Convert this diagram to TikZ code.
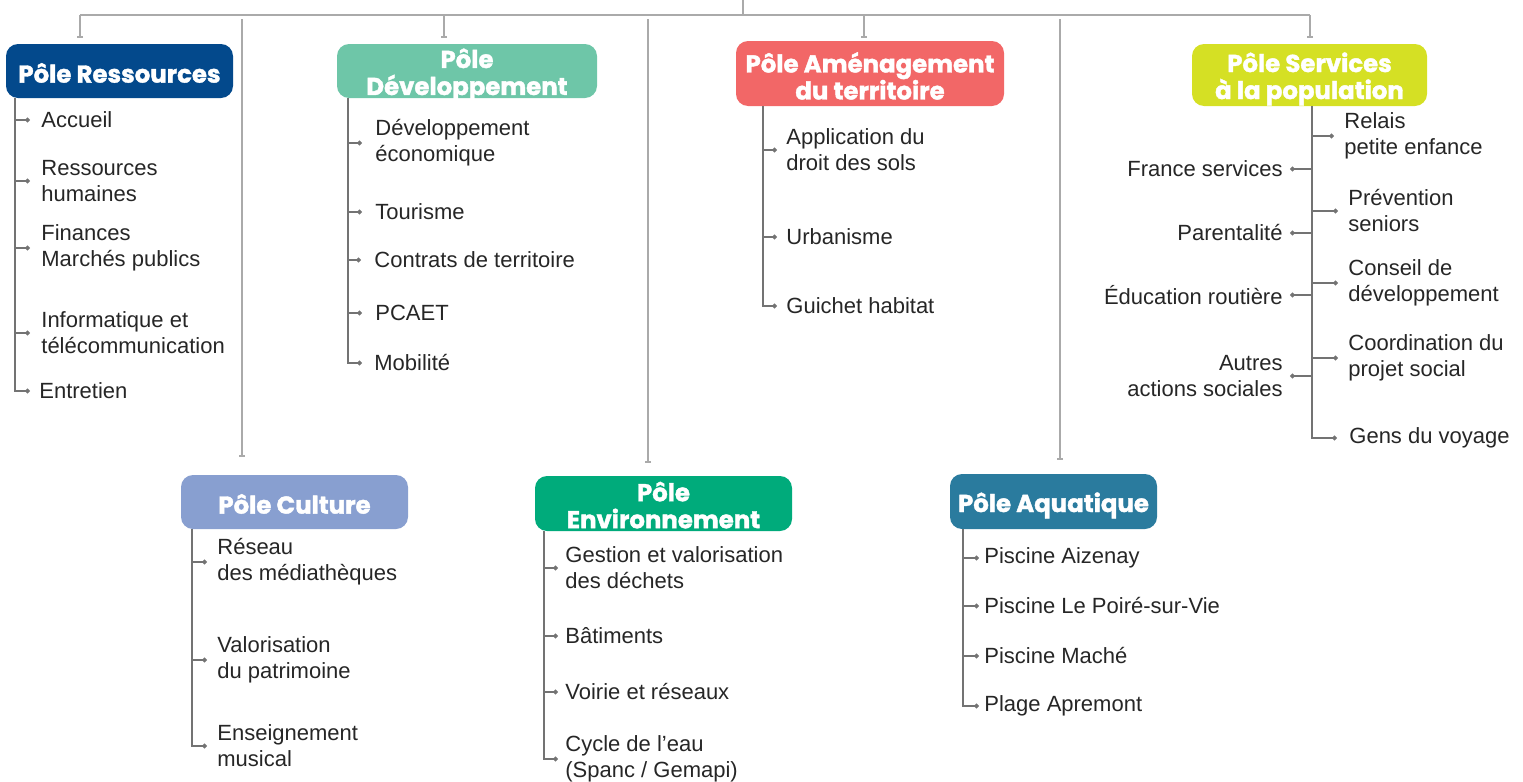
\documentclass[tikz,border=0pt]{standalone}
\usepackage{fontspec}
\setmainfont{Liberation Sans}
\newfontfamily\titlefont[BoldFeatures={FakeBold=1.6}]{Poppins}
\usepackage{tikz}
\usetikzlibrary{arrows.meta}
\definecolor{ressources}{RGB}{3,73,140}
\definecolor{developpement}{RGB}{110,198,168}
\definecolor{amenagement}{RGB}{242,103,103}
\definecolor{services}{RGB}{213,224,36}
\definecolor{culture}{RGB}{136,159,208}
\definecolor{environnement}{RGB}{0,171,123}
\definecolor{aquatique}{RGB}{42,123,158}
\definecolor{busgray}{RGB}{170,170,170}
\definecolor{twiggray}{RGB}{115,115,115}
\begin{document}
\begin{tikzpicture}[x=0.5pt,y=-0.5pt]
            \tikzstyle{pole}=[rounded corners=6pt,inner sep=0pt]
            \tikzstyle{title}=[inner sep=0pt,text=white,align=center,font=\titlefont\bfseries\fontsize{12.2}{13.5}\selectfont]
            \tikzstyle{item}=[anchor=west,inner sep=0pt,align=left,text=black!85,font=\fontsize{11}{13}\selectfont]
            \tikzstyle{itemr}=[item,anchor=east,align=right]
            \tikzstyle{bus}=[busgray,line width=0.7pt]
            \tikzstyle{drop}=[bus,-{Bar[width=3pt,line width=0.6pt]}]
            \tikzstyle{twig}=[twiggray,line width=0.55pt,-{Circle[length=2.4pt]}]
            \useasboundingbox (0,0) rectangle (1523,782);
            \node[pole,fill=ressources,minimum width=113.5pt,minimum height=27pt,label={[title,yshift=-1pt]center:P\^ole Ressources}] (ress) at (119.5,71) {};
            \node[pole,fill=developpement,minimum width=130pt,minimum height=27pt,label={[title,yshift=-2pt]center:{P\^ole\\D\'eveloppement}}] (dev) at (467,71) {};
            \node[pole,fill=amenagement,minimum width=134pt,minimum height=32.5pt,label={[title,yshift=-1.2pt]center:{P\^ole Am\'enagement\\du territoire}}] (amen) at (870,73.5) {};
            \node[pole,fill=services,minimum width=117.5pt,minimum height=31pt,label={[title,yshift=-2pt]center:{P\^ole Services\\\`a la population}}] (serv) at (1309.5,75) {};
            \node[pole,fill=culture,minimum width=113.5pt,minimum height=27pt,label={[title,yshift=-1pt]center:P\^ole Culture}] (cult) at (294.5,502) {};
            \node[pole,fill=environnement,minimum width=128.5pt,minimum height=27.5pt,label={[title,yshift=-0.8pt]center:{P\^ole\\Environnement}}] (env) at (663.5,503.5) {};
            \node[pole,fill=aquatique,minimum width=103.5pt,minimum height=27.5pt,label={[title,yshift=-2pt]center:P\^ole Aquatique}] (aqua) at (1053.5,501.5) {};
            \coordinate (root) at (743,0);
            \coordinate (hub) at (743,15);
            \coordinate (b1) at (80,15);
            \coordinate (b2) at (444,15);
            \coordinate (b3) at (864,15);
            \coordinate (b4) at (1310,15);
            \coordinate (l1) at (242,19);
            \coordinate (l2) at (648,19);
            \coordinate (l3) at (1060,19);
            \draw[bus] (root) -- (hub);
            \draw[bus] (b1) -- (b4);
            \draw[drop,shorten >=3pt] (b1) -- (b1 |- ress.north);
            \draw[drop,shorten >=3pt] (b2) -- (b2 |- dev.north);
            \draw[drop,shorten >=1.5pt] (b3) -- (b3 |- amen.north);
            \draw[drop,shorten >=3pt] (b4) -- (b4 |- serv.north);
            \draw[drop,shorten >=9pt] (l1) -- (l1 |- cult.north);
            \draw[drop,shorten >=6.5pt] (l2) -- (l2 |- env.north);
            \draw[drop,shorten >=7pt] (l3) -- (l3 |- aqua.north);
            \node[item] (r1) at (41,120) {Accueil};
            \node[item] (r2) at (41,181) {Ressources\\humaines};
            \node[item] (r3) at (41,248) {Finances\\March\'es publics};
            \node[item] (r4) at (41,333) {Informatique et\\t\'el\'ecommunication};
            \node[item] (r5) at (39,391) {Entretien};
            \coordinate (t1) at (15,98);
            \foreach \n in {r1,r2,r3,r4}
                \draw[twig] (t1 |- \n.west) -- ([xshift=-5.5pt]\n.west);
            \draw[twig] (t1) |- ([xshift=-4.5pt]r5.west);
            \node[item] (d1) at (375,143) {D\'eveloppement\\\'economique};
            \node[item] (d2) at (375,212) {Tourisme};
            \node[item] (d3) at (374,260) {Contrats de territoire};
            \node[item] (d4) at (375,313) {PCAET};
            \node[item] (d5) at (374,363) {Mobilit\'e};
            \coordinate (t2) at (348,98);
            \foreach \n in {d1,d2,d3,d4}
                \draw[twig] (t2 |- \n.west) -- ([xshift=-6.5pt]\n.west);
            \draw[twig] (t2) |- ([xshift=-6pt]d5.west);
            \node[item] (a1) at (786,150) {Application du\\droit des sols};
            \node[item] (a2) at (786,237) {Urbanisme};
            \node[item] (a3) at (786,306) {Guichet habitat};
            \coordinate (t3) at (763,106);
            \foreach \n in {a1,a2}
                \draw[twig] (t3 |- \n.west) -- ([xshift=-4.5pt]\n.west);
            \draw[twig] (t3) |- ([xshift=-4.5pt]a3.west);
            \node[item] (s1) at (1344,136) {Relais\\petite enfance};
            \node[item] (s2) at (1348,211) {Pr\'evention\\seniors};
            \node[item] (s3) at (1348,283) {Conseil de\\d\'eveloppement};
            \node[item] (s4) at (1348,358) {Coordination du\\projet social};
            \node[item] (s5) at (1349,438) {Gens du voyage};
            \node[itemr] (p1) at (1283,169) {France services};
            \node[itemr] (p2) at (1283,233) {Parentalit\'e};
            \node[itemr] (p3) at (1283,295) {\'Education routi\`ere};
            \node[itemr] (p4) at (1283,376) {Autres\\actions sociales};
            \coordinate (t4) at (1312,106);
            \foreach \n in {s1,s2,s3,s4}
                \draw[twig] (t4 |- \n.west) -- ([xshift=-5pt]\n.west);
            \draw[twig] (t4) |- ([xshift=-6pt]s5.west);
            \foreach \n in {p1,p2,p3,p4}
                \draw[twig] (t4 |- \n.east) -- ([xshift=3.5pt]\n.east);
            \node[item] (c1) at (217,562) {R\'eseau\\des m\'ediath\`eques};
            \node[item] (c2) at (217,660) {Valorisation\\du patrimoine};
            \node[item] (c3) at (217,746) {Enseignement\\musical};
            \coordinate (t5) at (192,529);
            \foreach \n in {c1,c2}
                \draw[twig] (t5 |- \n.west) -- ([xshift=-5pt]\n.west);
            \draw[twig] (t5) |- ([xshift=-5pt]c3.west);
            \node[item] (e1) at (565,568) {Gestion et valorisation\\des d\'echets};
            \node[item] (e2) at (565,636) {B\^atiments};
            \node[item] (e3) at (565,692) {Voirie et r\'eseaux};
            \node[item] (e4) at (565,759) {Cycle de l’eau\\(Spanc / Gemapi)};
            \coordinate (t6) at (544,531);
            \foreach \n in {e1,e2,e3}
                \draw[twig] (t6 |- \n.west) -- ([xshift=-3.5pt]\n.west);
            \draw[twig] (t6) |- ([xshift=-3.5pt]e4.west);
            \node[item] (q1) at (984,558) {Piscine Aizenay};
            \node[item] (q2) at (984,606) {Piscine Le Poir\'e-sur-Vie};
            \node[item] (q3) at (984,656) {Piscine Mach\'e};
            \node[item] (q4) at (984,706) {Plage Apremont};
            \coordinate (t7) at (963,529);
            \foreach \n in {q1,q2,q3}
                \draw[twig] (t7 |- \n.west) -- ([xshift=-2.5pt]\n.west);
            \draw[twig] (t7) |- ([xshift=-2.5pt]q4.west);
        \end{tikzpicture}
\end{document}
